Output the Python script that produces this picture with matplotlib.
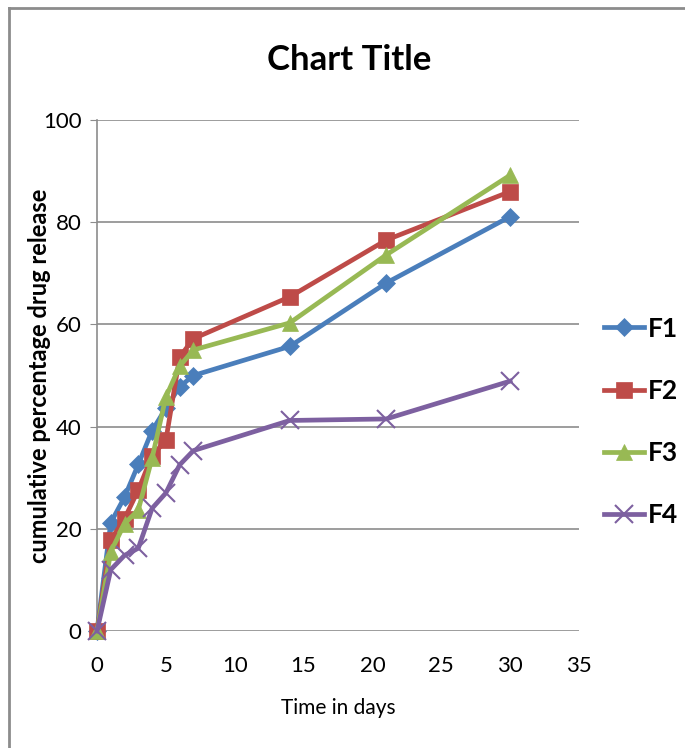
import matplotlib
matplotlib.use("Agg")
import matplotlib.pyplot as plt
from matplotlib.lines import Line2D

days = [0, 1, 2, 3, 4, 5, 6, 7, 14, 21, 30]
F1 = [0, 21.2, 26.2, 32.6, 39.2, 43.6, 47.8, 50.0, 55.7, 68.1, 81.1]
F2 = [0, 17.8, 22.0, 27.6, 34.3, 37.3, 53.6, 57.2, 65.4, 76.5, 86.0]
F3 = [0, 15.5, 21.0, 23.7, 33.8, 45.8, 51.8, 55.0, 60.3, 73.6, 89.2]
F4 = [0, 12.0, 14.8, 16.2, 24.0, 27.0, 32.5, 35.3, 41.2, 41.5, 48.9]
names = ["F1", "F2", "F3", "F4"]
xticks = [0, 5, 10, 15, 20, 25, 30, 35]
yticks = [0, 20, 40, 60, 80, 100]

colors = ["#4A7EBB", "#BE4B48", "#98B954", "#7D60A0"]
markers = ["D", "s", "^", "x"]
msizes = [9, 12, 11, 13]

plt.rcParams['font.family'] = ["Lato", "DejaVu Sans"]

fig = plt.figure(figsize=(6.85, 7.48), dpi=100)
ax = fig.add_axes([97/685, 1-631/748, (579-97)/685, (631-120)/748])

for vals, name, c, m, ms in zip([F1, F2, F3, F4], names, colors, markers, msizes):
    ax.plot(days, vals, color=c, lw=3.4, marker=m, markersize=ms,
            markeredgewidth=1.5 if m == "x" else 0.5, markeredgecolor=c,
            label=name, zorder=3, clip_on=False)

ax.set_xlim(0, 35)
ax.set_ylim(0, 100)
ax.set_xticks(xticks)
ax.set_yticks(yticks)
ax.set_xticklabels([str(t) for t in xticks], fontsize=16)
ax.set_yticklabels([str(t) for t in yticks], fontsize=16)
ax.yaxis.grid(True, color="#8C8C8C", lw=1.2)
ax.set_axisbelow(True)
for s in ["top", "right", "bottom"]:
    ax.spines[s].set_visible(False)
ax.spines["left"].set_color("#8C8C8C")
ax.spines["left"].set_linewidth(1.2)
ax.tick_params(axis="y", length=5, color="#8C8C8C", pad=6)
ax.tick_params(axis="x", length=0, pad=18)

ax.set_xlabel("Time in days", fontsize=15, labelpad=16)
ax.set_ylabel("cumulative percentage drug release", fontsize=17,
              fontweight="bold")
ax.yaxis.set_label_coords((51 - 97) / 482, 0.5)
fig.text(349/685, 1-60/748, "Chart Title", ha="center", va="center",
         fontsize=25, fontweight="bold")

handles = [Line2D([0], [0], color=c, lw=3.4, marker=m, markersize=ms,
                  markeredgewidth=1.5 if m == "x" else 0.5, markeredgecolor=c)
           for c, m, ms in zip(colors, markers, msizes)]
fig.legend(handles, names, loc="center left", bbox_to_anchor=(604/685, 1-422/748),
           frameon=False, prop={"weight": "bold", "size": 19},
           handlelength=1.5, handletextpad=0.15, labelspacing=1.45,
           borderpad=0, borderaxespad=0)

# outer border (top & left)
fig.add_artist(Line2D([9/685, 9/685], [0, 1-8/748], color="#8C8C8C", lw=2,
                      transform=fig.transFigure))
fig.add_artist(Line2D([9/685, 1], [1-8/748, 1-8/748], color="#8C8C8C", lw=2,
                      transform=fig.transFigure))

fig.savefig("out.png", dpi=100)
